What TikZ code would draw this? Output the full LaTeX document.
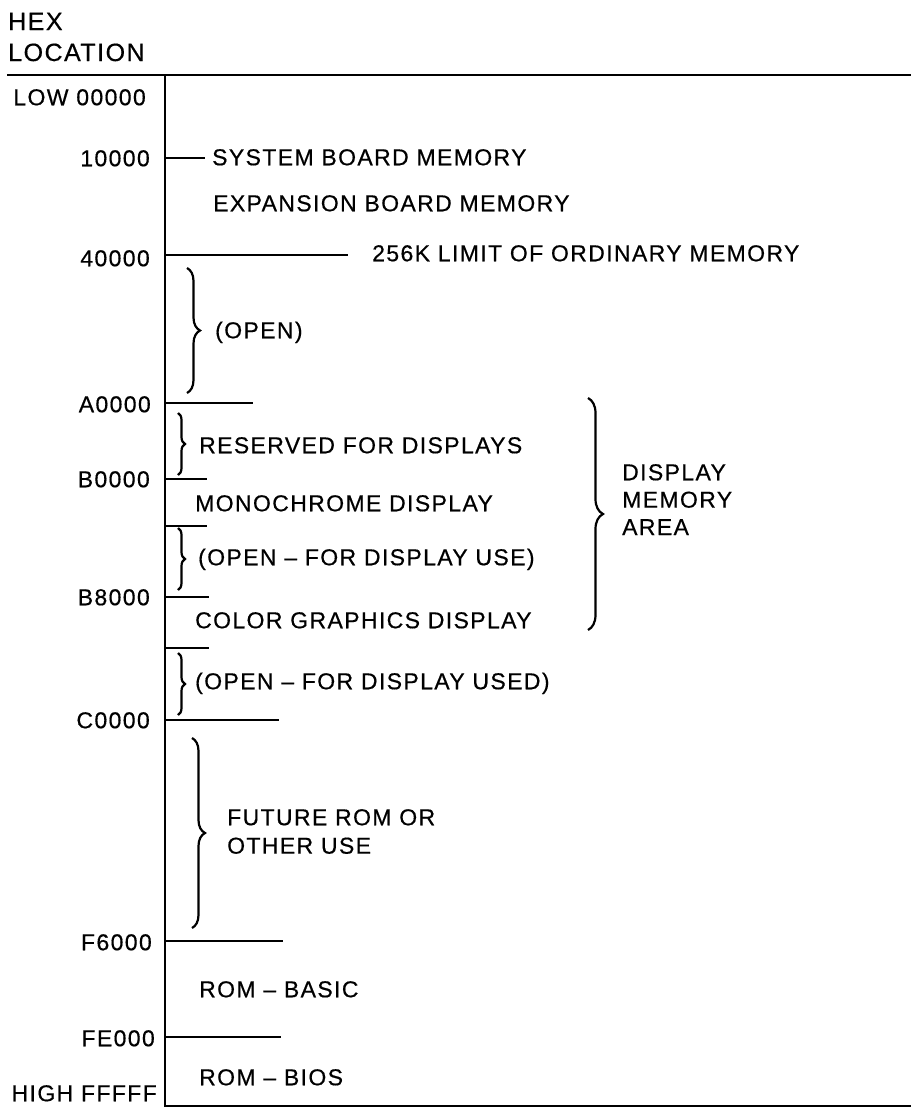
\documentclass[tikz,border=0pt]{standalone}
\usepackage{fontspec}
\setmainfont{Liberation Sans}[LetterSpace=6, FakeBold=0.5]
\usetikzlibrary{decorations.pathreplacing, positioning}

\begin{document}
\begin{tikzpicture}[x=1pt, y=-1pt]
  \tikzset{
    txt/.style={inner sep=0pt, anchor=west, text height=16.5pt, text depth=0pt,
      font=\fontsize{23}{28}\selectfont},
    addr/.style={txt, anchor=east},
    head/.style={inner sep=0pt, anchor=west, text height=18pt, text depth=0pt,
      font=\fontsize{25}{30}\selectfont},
    rule/.style={line width=1.8pt},
    brc/.style={decorate, decoration={brace, amplitude=#1, aspect=0.5},
      line width=2.2pt},
    brc/.default=8pt
  }
  \useasboundingbox (0,0) rectangle (911,1111);

  % frame
  \coordinate (hl) at (7,75);
  \coordinate (hr) at (911,75);
  \coordinate (axtop) at (165,75);
  \coordinate (axbot) at (165,1106);
  \coordinate (br) at (911,1106);
  \draw[rule] (hl) -- (hr);
  \draw[rule] (axtop) -- (axbot) -- (br);

  \node[head] (hex) at (8,21) {HEX};
  \node[head] (loc) at (8,52) {LOCATION};

  % boundary ticks
  \foreach \n/\y/\xe in {a/158/205, b/255/348, c/403/253, d/479/207, e/526/207,
                         f/597/209, g/648/209, h/720/279, i/941/283, j/1037/281}{
    \coordinate (t\n) at (\xe,\y);
    \draw[rule] (axtop |- t\n) -- (t\n);
  }

  % addresses
  \node[addr] (low) at (146,97) {LOW 00000};
  \node[addr] (m10) at (150,158) {10000};
  \node[addr] (m40) at (150,258) {40000};
  \node[addr] (ma0) at (151,404) {A0000};
  \node[addr] (mb0) at (150,479) {B0000};
  \node[addr] (mb8) at (150,597) {B8000};
  \node[addr] (mc0) at (150,720) {C0000};
  \node[addr] (mf6) at (152,942) {F6000};
  \node[addr] (mfe) at (155,1038) {FE000};
  \node[addr] (high) at (157,1093) {HIGH FFFFF};

  % regions
  \node[txt] (sys) at (212,157) {SYSTEM BOARD MEMORY};
  \node[txt] (exp) at (213,203) {EXPANSION BOARD MEMORY};
  \node[txt] (lim) at (372,253) {256K LIMIT OF ORDINARY MEMORY};
  \node[txt] (open1) at (215,330) {(OPEN)};
  \node[txt] (resv) at (199,445) {RESERVED FOR DISPLAYS};
  \node[txt] (mono) at (195,503) {MONOCHROME DISPLAY};
  \node[txt] (open2) at (198,557) {(OPEN -- FOR DISPLAY USE)};
  \node[txt] (cga) at (195,620) {COLOR GRAPHICS DISPLAY};
  \node[txt] (open3) at (195,681) {(OPEN -- FOR DISPLAY USED)};
  \node[txt] (fut1) at (227,817) {FUTURE ROM OR};
  \node[txt, below=11.5pt of fut1.south west, anchor=north west] (fut2) {OTHER USE};
  \node[txt] (basic) at (199,989) {ROM -- BASIC};
  \node[txt] (bios) at (199,1077) {ROM -- BIOS};

  \node[txt] (dsp1) at (622,472) {DISPLAY};
  \node[txt, below=10.5pt of dsp1.south west, anchor=north west] (dsp2) {MEMORY};
  \node[txt, below=10.5pt of dsp2.south west, anchor=north west] (dsp3) {AREA};

  % braces
  \draw[brc=13pt] (187,268) -- (187,393);
  \draw[brc=7pt] (178,413) -- (178,475);
  \draw[brc=7pt] (178,528) -- (178,590);
  \draw[brc=7pt] (178,653) -- (178,715);
  \draw[brc=13pt] (192,738) -- (192,928);
  \draw[brc=15pt] (588,398) -- (588,630);
\end{tikzpicture}
\end{document}
